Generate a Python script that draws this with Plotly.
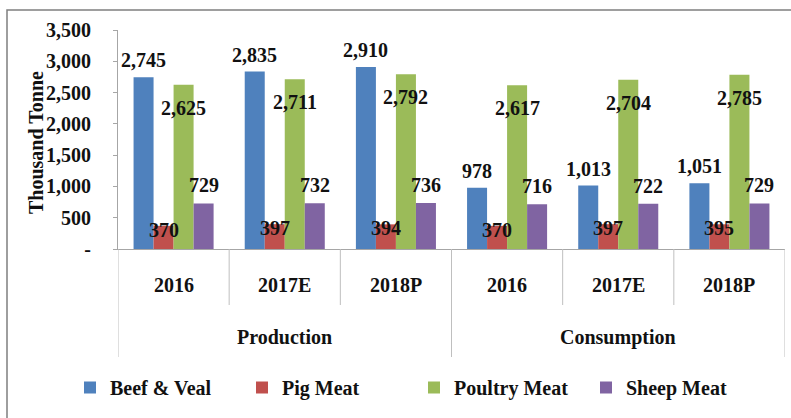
import plotly.graph_objects as go

groups = ["Production", "Consumption"]
years = ["2016", "2017E", "2018P", "2016", "2017E", "2018P"]

beef = [2745, 2835, 2910, 978, 1013, 1051]
pig = [370, 397, 394, 370, 397, 395]
poultry = [2625, 2711, 2792, 2617, 2704, 2785]
sheep = [729, 732, 736, 716, 722, 729]

series_names = ["Beef & Veal", "Pig Meat", "Poultry Meat", "Sheep Meat"]
series_vals = [beef, pig, poultry, sheep]
colors = ["#4F81BD", "#C0504D", "#9BBB59", "#8064A2"]
label_shift = [17, -4, -23, 18]  # vertical offset of value labels from bar top (px)

ytick_vals = [0, 500, 1000, 1500, 2000, 2500, 3000, 3500]
ytick_text = ["-", "500", "1,000", "1,500", "2,000", "2,500", "3,000", "3,500"]

FONT = "Liberation Serif"
FS = 20
TXT = "#111111"

W, H = 791, 418
L, R, T, B = 118, 6, 30, 169
pw, ph = W - L - R, H - T - B
BARGAP = 0.28

def px_x(p):  # pixel -> paper x
    return (p - L) / pw

def px_y(p):  # pixel -> paper y
    return (T + ph - p) / ph

xpos = list(range(len(years)))
nser = len(series_vals)
bw = (1 - BARGAP) / nser

fig = go.Figure()
for name, vals, col in zip(series_names, series_vals, colors):
    fig.add_trace(go.Bar(
        x=xpos, y=vals, name=name,
        marker=dict(color=col, line=dict(width=0)),
        hoverinfo="name+y",
    ))

# value labels (drawn above all bars)
for j, (vals, sh) in enumerate(zip(series_vals, label_shift)):
    off = (j - (nser - 1) / 2) * bw
    for i, v in enumerate(vals):
        fig.add_annotation(text=f"<b>{v:,}</b>", x=xpos[i] + off, y=v, xref="x", yref="y",
                           yshift=sh, showarrow=False, xanchor="center", yanchor="middle",
                           font=dict(family=FONT, size=FS, color=TXT))

fig.update_layout(
    width=W, height=H,
    margin=dict(l=L, r=R, t=T, b=B, autoexpand=False),
    barmode="group", bargap=BARGAP, bargroupgap=0,
    plot_bgcolor="white", paper_bgcolor="white",
    font=dict(family=FONT, size=FS, color=TXT),
    showlegend=True,
    legend=dict(orientation="h", x=px_x(70), xanchor="left", y=px_y(368), yanchor="top",
                font=dict(family=FONT, size=FS, color=TXT, weight="bold"),
                entrywidth=127, itemwidth=30, traceorder="normal", bgcolor="rgba(0,0,0,0)"),
    yaxis=dict(range=[0, 3500], tickvals=ytick_vals, ticktext=ytick_text,
               showgrid=False, showline=True, linecolor="#a6a6a6", linewidth=1,
               ticks="outside", ticklen=4, tickcolor="#a6a6a6",
               ticklabelstandoff=18, automargin=False,
               tickfont=dict(family=FONT, size=FS, color=TXT, weight="bold"),
               zeroline=False),
    xaxis=dict(range=[-0.5, len(years) - 0.5], showticklabels=False, ticks="",
               showline=True, linecolor="#a6a6a6", linewidth=1,
               showgrid=False, zeroline=False, automargin=False),
)

# y-axis title
fig.add_annotation(text="<b>Thousand Tonne</b>", xref="paper", yref="paper",
                   x=px_x(36), y=px_y(143), textangle=-90, showarrow=False,
                   xanchor="center", yanchor="middle",
                   font=dict(family=FONT, size=FS, color=TXT))

# inner category labels and dividers
for i, yr in enumerate(years):
    fig.add_annotation(text=f"<b>{yr}</b>", xref="x", yref="paper", x=xpos[i],
                       y=px_y(285), showarrow=False, xanchor="center", yanchor="middle",
                       font=dict(family=FONT, size=FS, color=TXT))
n_per = len(years) // len(groups)
for i in range(len(years) + 1):
    outer = (i % n_per == 0)
    fig.add_shape(type="line", xref="x", yref="paper", x0=i - 0.5, x1=i - 0.5,
                  y0=0, y1=px_y(357 if outer else 305),
                  line=dict(color="#bfbfbf", width=1))

# outer group labels
for g, name in enumerate(groups):
    centre = g * n_per + (n_per - 1) / 2
    fig.add_annotation(text=f"<b>{name}</b>", xref="x", yref="paper", x=centre,
                       y=px_y(337), showarrow=False, xanchor="center", yanchor="middle",
                       font=dict(family=FONT, size=FS, color=TXT))

# outer frame of the chart image
fig.add_shape(type="rect", xref="paper", yref="paper",
              x0=px_x(7), x1=px_x(W + 5), y0=px_y(H + 5), y1=px_y(10),
              line=dict(color="#7f7f7f", width=1.5), fillcolor="rgba(0,0,0,0)", layer="below")

fig.write_html("out.html", config={"displayModeBar": False},
               post_script="document.body.style.margin='0';")
